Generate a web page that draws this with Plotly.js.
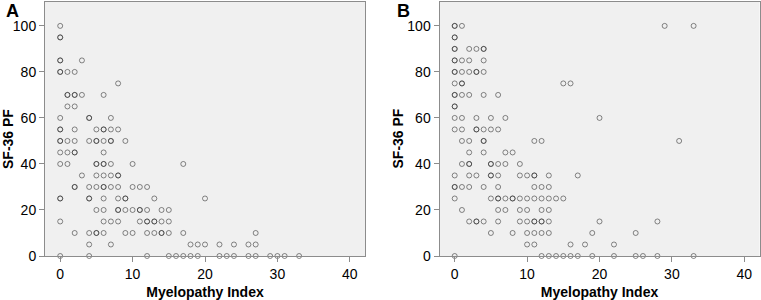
<!DOCTYPE html>
<html>
<head>
<meta charset="utf-8">
<script src="https://cdn.plot.ly/plotly-3.0.1.min.js"></script>
<style>html,body{margin:0;padding:0;background:#fff;}#chart{width:761px;height:300px;}</style>
</head>
<body>
<div id="chart"></div>
<script>
// Panel A: Myelopathy Index (x) vs SF-36 PF (y); repeated pairs = overlapping patients
const panelA_x = [
  0,
  0,0,
  0,0,3,
  0,0,1,2,
  8,
  1,1,2,2,3,6,
  1,2,
  0,4,4,7,
  0,0,2,5,6,6,7,8,
  0,0,1,2,4,5,5,6,7,7,9,
  0,1,2,2,6,
  0,1,5,5,6,6,7,10,17,
  3,5,6,7,8,8,
  2,2,4,5,6,6,7,8,10,11,12,
  0,0,4,4,6,8,9,9,13,20,
  5,6,8,8,9,10,11,11,12,14,15,
  0,6,7,8,11,12,12,13,13,14,15,
  2,4,5,5,6,9,10,12,13,14,14,15,17,27,
  4,7,18,19,20,22,24,26,27,
  0,4,12,15,16,17,18,19,22,23,24,26,27,29,30,31,33
];
const panelA_y = [
  100,
  95,95,
  85,85,85,
  80,80,80,80,
  75,
  70,70,70,70,70,70,
  65,65,
  60,60,60,60,
  55,55,55,55,55,55,55,55,
  50,50,50,50,50,50,50,50,50,50,50,
  45,45,45,45,45,
  40,40,40,40,40,40,40,40,40,
  35,35,35,35,35,35,
  30,30,30,30,30,30,30,30,30,30,30,
  25,25,25,25,25,25,25,25,25,25,
  20,20,20,20,20,20,20,20,20,20,20,
  15,15,15,15,15,15,15,15,15,15,15,
  10,10,10,10,10,10,10,10,10,10,10,10,10,10,
  5,5,5,5,5,5,5,5,5,
  0,0,0,0,0,0,0,0,0,0,0,0,0,0,0,0,0
];
// Panel B
const panelB_x = [
  0,0,1,29,33,
  0,0,
  0,0,2,3,4,4,
  0,0,1,2,4,
  0,0,1,2,3,3,4,
  0,1,1,15,16,
  0,0,1,2,4,6,
  0,0,
  0,1,3,5,7,20,
  0,1,3,3,4,5,6,
  1,2,4,4,11,12,31,
  2,4,7,8,
  1,2,2,5,5,6,7,9,
  0,2,3,5,5,6,9,10,11,11,13,17,
  0,0,1,2,4,6,11,12,13,
  0,5,6,6,7,8,8,9,10,11,12,13,14,15,
  1,6,7,9,10,12,13,
  2,3,3,4,6,9,10,11,11,12,12,13,20,28,
  5,8,10,11,12,13,19,25,
  10,11,16,18,22,
  0,12,13,14,15,16,17,19,22,25,26,28,33
];
const panelB_y = [
  100,100,100,100,100,
  95,95,
  90,90,90,90,90,90,
  85,85,85,85,85,
  80,80,80,80,80,80,80,
  75,75,75,75,75,
  70,70,70,70,70,70,
  65,65,
  60,60,60,60,60,60,
  55,55,55,55,55,55,55,
  50,50,50,50,50,50,50,
  45,45,45,45,
  40,40,40,40,40,40,40,40,
  35,35,35,35,35,35,35,35,35,35,35,35,
  30,30,30,30,30,30,30,30,30,
  25,25,25,25,25,25,25,25,25,25,25,25,25,25,
  20,20,20,20,20,20,20,
  15,15,15,15,15,15,15,15,15,15,15,15,15,15,
  10,10,10,10,10,10,10,10,
  5,5,5,5,5,
  0,0,0,0,0,0,0,0,0,0,0,0,0
];
const xTicks = [0, 10, 20, 30, 40];
const yTicks = [0, 20, 40, 60, 80, 100];
const xTitle = 'Myelopathy Index';
const yTitle = 'SF-36 PF';
const panelLabels = ['A', 'B'];

const FONT = 'Liberation Sans, Arial, sans-serif';
const marker = {symbol: 'circle-open', size: 5, color: 'rgba(40,40,40,0.55)', line: {width: 1, color: 'rgba(40,40,40,0.55)'}};

const traces = [
  {x: panelA_x, y: panelA_y, xaxis: 'x', yaxis: 'y', type: 'scatter', mode: 'markers', marker: marker, cliponaxis: false, hoverinfo: 'none'},
  {x: panelB_x, y: panelB_y, xaxis: 'x2', yaxis: 'y2', type: 'scatter', mode: 'markers', marker: marker, cliponaxis: false, hoverinfo: 'none'}
];

function xa(domain, anchor) {
  return {
    domain: domain, anchor: anchor, range: [-2.1, 42.1], tickvals: xTicks, ticktext: xTicks.map(String),
    showgrid: false, zeroline: false, showline: true, mirror: true, linecolor: '#8c8c8c', linewidth: 1,
    ticks: 'outside', ticklen: 5, tickcolor: '#8c8c8c', tickfont: {family: FONT, size: 14, color: '#000'},
    title: {text: '<b>' + xTitle + '</b>', font: {family: FONT, size: 14, color: '#000'}, standoff: 6}
  };
}
function ya(domain, anchor) {
  return {
    domain: domain, anchor: anchor, range: [0, 110.6], tickvals: yTicks, ticktext: yTicks.map(String),
    showgrid: false, zeroline: false, showline: true, mirror: true, linecolor: '#8c8c8c', linewidth: 1,
    ticks: 'outside', ticklen: 5, tickcolor: '#8c8c8c', tickfont: {family: FONT, size: 14, color: '#000'}
  };
}

const yDom = [1 - 256/300, 1 - 1.5/300];
function yTitleAnn(px) {
  return {text: '<b>' + yTitle + '</b>', xref: 'paper', yref: 'paper', x: px/761, y: 1 - 139/300,
    xanchor: 'center', yanchor: 'middle', textangle: -90, showarrow: false, borderpad: 0,
    font: {family: FONT, size: 14, color: '#000'}};
}
function labelAnn(i, px) {
  return {text: '<b>' + panelLabels[i] + '</b>', xref: 'paper', yref: 'paper', x: px/761, y: 1,
    xanchor: 'left', yanchor: 'top', showarrow: false, borderpad: 0, font: {family: FONT, size: 18, color: '#000'}};
}
const layout = {
  width: 761, height: 300,
  margin: {l: 0, r: 0, t: 0, b: 0, pad: 0},
  paper_bgcolor: '#ffffff', plot_bgcolor: '#f0f0f0',
  showlegend: false,
  xaxis: xa([45/761, 365/761], 'y'),
  yaxis: ya(yDom, 'x'),
  xaxis2: xa([439.5/761, 759.5/761], 'y2'),
  yaxis2: ya(yDom, 'x2'),
  annotations: [labelAnn(0, 5), labelAnn(1, 396), yTitleAnn(8), yTitleAnn(397.5)]
};

Plotly.newPlot('chart', traces, layout, {displayModeBar: false, staticPlot: true});
</script>
</body>
</html>
